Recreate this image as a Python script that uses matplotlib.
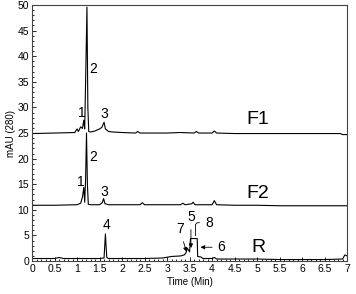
import matplotlib
matplotlib.use("Agg")
import matplotlib.pyplot as plt
from matplotlib.ticker import MultipleLocator

plt.rcParams['font.family'] = ['Liberation Sans', 'DejaVu Sans']

# ── data (time in min, absorbance in mAU) ──
f1_t = [0.0, 0.5, 0.95, 1.0, 1.03, 1.08, 1.12, 1.15, 1.17, 1.19, 1.22, 1.24, 1.26,
        1.3, 1.4, 1.5, 1.55, 1.6, 1.63, 1.7, 1.8, 2.0, 2.3, 2.35, 2.4, 2.7,
        3.0, 3.3, 3.6, 3.65, 3.7, 4.0, 4.05, 4.1, 4.5, 5.0, 5.5, 6.0, 6.5,
        6.85, 6.9, 7.0]
f1_v = [24.9, 25.0, 25.1, 25.8, 25.3, 26.2, 25.9, 27.5, 25.8, 35.0, 49.6, 30.0, 25.3,
        25.2, 25.4, 25.8, 26.1, 27.1, 25.8, 25.3, 25.2, 25.1, 25.0, 25.3, 25.0, 25.0,
        25.0, 25.1, 25.0, 25.3, 25.0, 25.0, 25.4, 25.0, 24.9, 24.9, 24.9, 24.9, 24.9,
        24.9, 24.7, 24.7]

f2_t = [0.0, 0.5, 1.0, 1.08, 1.12, 1.15, 1.17, 1.19, 1.21, 1.23, 1.25, 1.3, 1.5,
        1.56, 1.59, 1.62, 1.7, 2.0, 2.4, 2.45, 2.5, 3.0, 3.3, 3.35, 3.4, 3.55,
        3.58, 3.62, 4.0, 4.05, 4.1, 4.5, 5.0, 5.5, 6.0, 6.5, 7.0]
f2_v = [10.9, 10.9, 11.0, 11.3, 12.5, 14.4, 11.5, 16.0, 25.0, 15.0, 11.1, 11.0, 11.0,
        11.4, 12.2, 11.2, 11.0, 11.0, 11.0, 11.4, 11.0, 11.0, 11.0, 11.3, 11.0, 11.2,
        11.5, 11.0, 11.0, 11.8, 11.0, 10.9, 10.9, 10.8, 10.8, 10.8, 10.8]

r_t = [0.0, 0.5, 0.6, 0.7, 1.0, 1.5, 1.6, 1.63, 1.66, 1.7, 2.0, 2.5, 2.9, 3.1,
       3.3, 3.38, 3.42, 3.45, 3.5, 3.52, 3.6, 3.67, 3.68, 3.75, 3.8, 4.0, 4.05,
       4.1, 4.5, 5.0, 5.5, 6.0, 6.5, 6.9, 6.95, 7.0]
r_v = [0.5, 0.5, 0.7, 0.5, 0.5, 0.5, 0.6, 5.3, 0.7, 0.5, 0.5, 0.5, 0.6, 0.9,
       1.0, 1.2, 1.6, 2.5, 1.8, 4.4, 4.4, 4.4, 0.9, 0.8, 0.5, 0.5, 0.7,
       0.4, 0.4, 0.4, 0.3, 0.3, 0.3, 0.4, 1.2, 1.0]

peak_labels = [("1", 1.11, 29.0), ("2", 1.36, 37.5), ("3", 1.61, 28.8),
               ("1", 1.09, 15.5), ("2", 1.36, 20.4), ("3", 1.60, 13.5),
               ("4", 1.65, 7.0)]
trace_labels = [("F1", 5.02, 27.6), ("F2", 5.02, 13.1), ("R", 5.04, 2.6)]

fig = plt.figure(figsize=(3.56, 2.94), dpi=100)
ax = fig.add_axes([0.09, 0.112, 0.885, 0.871])

for t, v in [(f1_t, f1_v), (f2_t, f2_v), (r_t, r_v)]:
    ax.plot(t, v, color='black', lw=0.8)

for txt, x, y in peak_labels:
    ax.text(x, y, txt, fontsize=10, ha='center', va='center')
for txt, x, y in trace_labels:
    ax.text(x, y, txt, fontsize=14, ha='center', va='center')

# arrows pointing at the crowded R peaks
arr = dict(arrowstyle='-|>', color='black', lw=0.6, mutation_scale=6)
ax.annotate("7", xy=(3.45, 1.3), xytext=(3.28, 6.2), fontsize=10,
            ha='center', va='center', arrowprops=arr)
ax.annotate("5", xy=(3.53, 2.0), xytext=(3.53, 8.6), fontsize=10,
            ha='center', va='center', arrowprops=arr)
ax.annotate("8", xy=(3.63, 4.4), xytext=(3.93, 7.5), fontsize=10,
            ha='center', va='center',
            arrowprops=dict(arrowstyle='-', color='black', lw=0.6,
                            connectionstyle='angle,angleA=180,angleB=90,rad=3'))
ax.annotate("6", xy=(3.68, 2.7), xytext=(4.21, 2.7), fontsize=10,
            ha='center', va='center', arrowprops=arr)

ax.set_xlim(0, 7)
ax.set_ylim(0, 50)
ax.xaxis.set_major_locator(MultipleLocator(0.5))
ax.xaxis.set_minor_locator(MultipleLocator(0.1))
ax.yaxis.set_major_locator(MultipleLocator(5))
ax.yaxis.set_minor_locator(MultipleLocator(1))
ax.xaxis.set_major_formatter(plt.FuncFormatter(lambda v, p: f"{v:g}"))
ax.tick_params(which='both', direction='in', labelsize=7.5, width=0.6, pad=2)
ax.tick_params(which='major', length=3)
ax.tick_params(which='minor', length=1.5)
for s in ax.spines.values():
    s.set_linewidth(0.8)
    s.set_color('#444444')

ax.set_xlabel("Time (Min)", fontsize=7, labelpad=2)
ax.set_ylabel("mAU (280)", fontsize=7, labelpad=1)

fig.savefig("out.png", dpi=100)
